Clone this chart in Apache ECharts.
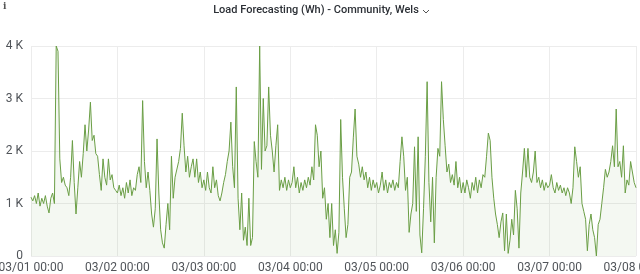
<!DOCTYPE html>
<html>
<head>
<meta charset="utf-8">
<script src="https://cdn.jsdelivr.net/npm/echarts@6/dist/echarts.min.js"></script>
<style>
html,body{margin:0;padding:0;background:#fff;}
#chart{width:640px;height:274px;}
</style>
</head>
<body>
<div id="chart"></div>
<script>
// Values in thousands of Wh per 30-minute step, one array per day
const day1 = [1.12,1.05,1.15,1.0,1.2,0.95,1.1,1.0,1.15,0.95,0.82,1.1,1.2,1.0,4.0,3.9,1.85,1.4,1.5,1.35,1.3,1.15,1.5,2.2,1.4,0.8,1.3,1.8,1.5,1.95,2.5,2.0,2.4,2.93,2.2,2.3,1.95,1.9,1.55,1.25,1.85,1.5,1.35,1.85,1.45,1.55,1.3,1.25];
const day2 = [1.2,1.35,1.15,1.3,1.1,1.4,1.2,1.45,1.15,1.3,1.25,1.55,1.7,1.4,2.96,1.8,1.3,1.6,1.25,0.8,0.55,0.9,2.23,1.2,0.5,0.25,0.15,0.6,1.0,0.5,1.9,1.1,1.5,1.5,1.8,2.05,2.72,2.1,1.6,1.9,1.5,1.7,1.85,1.5,1.85,1.4,1.6,1.3];
const day3 = [1.45,1.25,1.6,1.3,1.2,1.7,1.3,1.45,1.15,1.05,1.2,1.4,1.55,1.8,2.0,2.55,1.7,1.3,3.22,1.1,0.5,1.2,0.3,0.55,0.2,1.1,0.2,0.35,2.18,1.8,1.5,4.0,1.65,3.0,2.0,2.1,3.22,2.3,2.0,1.6,2.1,2.5,1.25,1.45,1.3,1.5,1.25,1.45];
const day4 = [1.3,1.4,1.7,1.3,1.5,1.2,1.4,1.25,1.45,1.3,1.5,1.35,1.7,1.45,2.5,2.3,1.7,2.0,1.1,1.3,0.7,1.0,0.35,1.0,0.2,0.5,0.05,0.45,2.6,1.5,0.9,0.35,0.6,1.5,1.6,2.25,2.8,1.9,1.75,1.5,1.7,1.45,1.6,1.3,1.5,1.25,1.45,1.3];
const day5 = [1.4,1.2,1.35,1.6,1.25,1.45,1.2,1.4,1.3,1.45,1.25,1.4,1.3,1.8,2.27,1.9,1.25,1.5,0.45,0.8,1.0,2.08,0.85,2.27,0.4,0.06,0.9,1.9,3.32,1.4,0.65,1.5,0.25,1.5,2.05,1.9,3.32,2.6,2.1,1.6,1.75,1.4,1.55,1.35,1.8,1.3,1.5,1.2];
const day6 = [1.4,1.2,1.45,1.3,1.1,1.4,1.25,1.5,1.2,1.45,1.3,1.55,1.5,1.9,2.34,2.2,1.5,1.1,0.8,0.6,0.35,0.65,0.82,0.1,0.8,0.05,0.3,0.7,0.4,1.25,0.9,0.15,1.2,1.6,2.05,1.5,2.05,1.5,1.4,1.6,2.0,1.4,1.5,1.3,1.45,1.25,1.4,1.3];
const day7 = [1.35,1.55,1.3,1.2,1.4,1.25,1.35,1.2,1.3,1.15,1.3,1.2,1.0,1.3,2.08,1.8,1.5,1.7,1.0,0.85,0.7,0.1,0.6,0.8,0.5,0.35,0.0,0.6,0.7,1.0,1.3,1.65,1.5,1.6,1.8,2.1,1.7,2.8,1.7,1.8,1.5,2.1,1.2,1.45,1.35,1.8,1.6,1.4,1.3];

const dayLabels = ['03/01 00:00','03/02 00:00','03/03 00:00','03/04 00:00','03/05 00:00','03/06 00:00','03/07 00:00','03/08 00:00'];
const yTicks = [0, 1000, 2000, 3000, 4000];
const stepHours = 0.5;

const values = [].concat(day1, day2, day3, day4, day5, day6, day7);
const seriesData = values.map((v, i) => [i * stepHours, Math.round(v * 1000)]);

const chart = echarts.init(document.getElementById('chart'), null, {renderer: 'canvas'});
const lineColor = '#6a9e45';
chart.setOption({
  animation: false,
  backgroundColor: '#ffffff',
  graphic: [
    {type: 'text', x: 316, y: 5, style: {text: 'Load Forecasting (Wh) - Community, Wels', align: 'center', fontFamily: 'Roboto', fontSize: 11, fontWeight: 500, fill: '#2c3036'}},
    {type: 'text', left: 3, top: 2, style: {text: 'i', fontFamily: 'DejaVu Serif', fontSize: 9, fontWeight: 'bold', fill: '#555'}},
    {type: 'polyline', shape: {points: [[423, 10], [426, 13], [429, 10]]}, style: {stroke: '#555', lineWidth: 1, fill: null}}
  ],
  grid: {left: 31, right: 4, top: 46, bottom: 18, containLabel: false, outerBoundsMode: 'none'},
  xAxis: {
    type: 'value',
    min: 0,
    max: 168,
    interval: 24,
    axisLine: {show: false},
    axisTick: {show: false},
    splitLine: {show: true, lineStyle: {color: '#ececec', width: 1}},
    axisLabel: {
      color: '#505459',
      fontFamily: 'Roboto',
      fontSize: 12,
      margin: 6,
      showMinLabel: true,
      showMaxLabel: true,
      hideOverlap: false,
      alignMinLabel: 'center',
      alignMaxLabel: 'center',
      formatter: v => dayLabels[Math.round(v / 24)]
    }
  },
  yAxis: {
    type: 'value',
    min: 0,
    max: 4000,
    interval: 1000,
    axisLine: {show: false},
    axisTick: {show: false},
    splitLine: {show: true, lineStyle: {color: '#ececec', width: 1}},
    axisLabel: {
      color: '#505459',
      fontFamily: 'Roboto',
      fontSize: 12,
      margin: 8,
      formatter: v => (yTicks.indexOf(v) >= 0 ? (v === 0 ? '0' : (v / 1000) + ' K') : '')
    }
  },
  series: [{
    type: 'line',
    data: seriesData,
    showSymbol: false,
    symbol: 'none',
    clip: true,
    lineStyle: {color: lineColor, width: 1},
    areaStyle: {color: 'rgba(106,158,69,0.1)'},
    emphasis: {disabled: true}
  }]
});
</script>
</body>
</html>
